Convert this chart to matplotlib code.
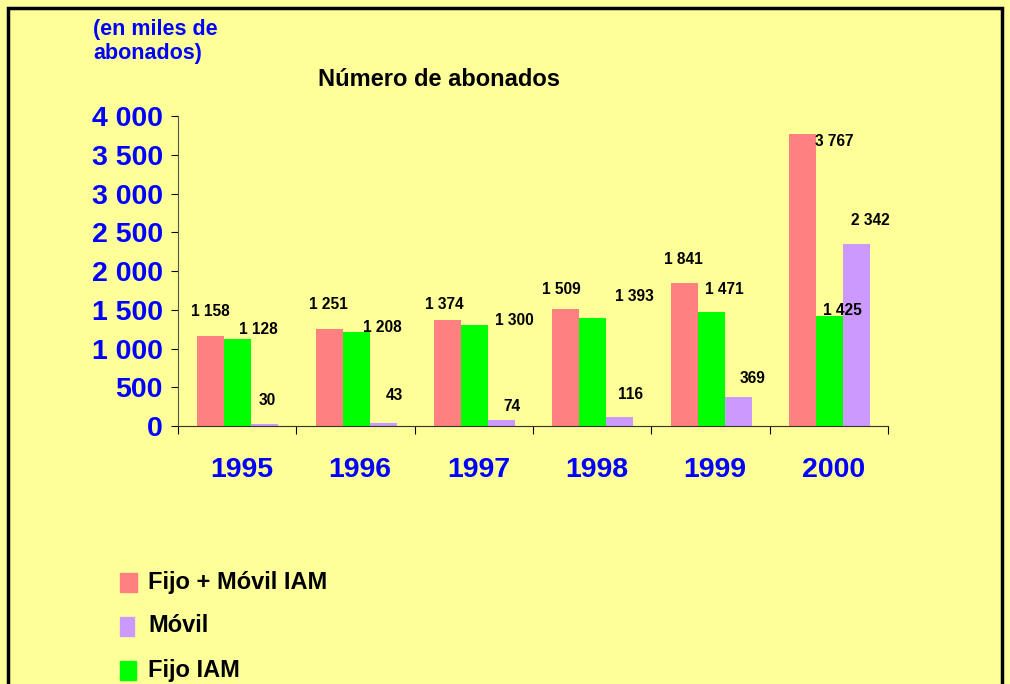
import matplotlib.pyplot as plt
from matplotlib.patches import Rectangle
import numpy as np

plt.rcParams['font.family'] = ['Liberation Sans', 'DejaVu Sans']
plt.rcParams['font.weight'] = 'bold'

years = ['1995', '1996', '1997', '1998', '1999', '2000']
fijo_movil = [1158, 1251, 1374, 1509, 1841, 3767]
fijo = [1128, 1208, 1300, 1393, 1471, 1425]
movil = [30, 43, 74, 116, 369, 2342]

# label offsets in pixels (dx, dy up) from the top centre of each bar
off_fm = [(0, 25), (0, 25), (-3, 15), (-4, 20), (0, 24), (32, -7)]
off_f = [(21, 9), (27, 5), (41, 5), (42, 22), (14, 22), (14, 5)]
off_m = [(3, 23), (12, 27), (11, 14), (11, 23), (15, 19), (15, 24)]

bg = '#FFFF99'
c_fm, c_f, c_m = '#FF8080', '#00FF00', '#CC99FF'
blue = '#0000FF'

fig = plt.figure(figsize=(10.1, 6.84), dpi=100, facecolor=bg)
ax = fig.add_axes([178/1010, 1-426/684, 710/1010, 310/684])
ax.set_facecolor(bg)

x = np.arange(len(years))
w = 0.228
bars = [
    (ax.bar(x - w + 0.005, fijo_movil, w, color=c_fm), fijo_movil, off_fm, -w),
    (ax.bar(x + 0.005, fijo, w, color=c_f), fijo, off_f, 0),
    (ax.bar(x + w + 0.005, movil, w, color=c_m), movil, off_m, w),
]

def fmt(v):
    return '{:,}'.format(v).replace(',', ' ')

for cont, vals, offs, dx in bars:
    for i, v in enumerate(vals):
        ox, oy = offs[i]
        ax.annotate(fmt(v), (x[i] + dx, v), xytext=(ox*0.72, oy*0.72),
                    textcoords='offset points', ha='center', va='center',
                    fontsize=11.2, fontweight='bold', color='black')

ax.set_xlim(-0.5, len(years) - 0.5)
ax.set_ylim(0, 4000)
ax.set_yticks(range(0, 4001, 500))
ax.set_yticklabels([fmt(v) for v in range(0, 4001, 500)],
                   fontsize=20.5, fontweight='bold', color=blue)
ax.set_xticks(np.arange(-0.5, len(years), 1))
ax.set_xticklabels([])
ax.set_xticks(x + 0.04, minor=True)
ax.set_xticklabels(years, minor=True, fontsize=20.5, fontweight='bold', color=blue)
ax.tick_params(axis='x', which='major', length=6, direction='out', color='black')
ax.tick_params(axis='x', which='minor', length=0, pad=22)
ax.tick_params(axis='y', length=5, pad=6, color='black')
for s in ['top', 'right']:
    ax.spines[s].set_visible(False)
ax.spines['left'].set_color('#555555')
ax.spines['bottom'].set_color('#333333')

fig.text(439/1010, 1-80/684, 'Número de abonados', ha='center', va='center',
         fontsize=17, fontweight='bold')
fig.text(93/1010, 1-30/684, '(en miles de', ha='left', va='center',
         fontsize=15.5, fontweight='bold', color=blue)
fig.text(93/1010, 1-54/684, 'abonados)', ha='left', va='center',
         fontsize=15.5, fontweight='bold', color=blue)

# legend drawn by hand
leg = [('Fijo + Móvil IAM', c_fm, 582, 17), ('Móvil', c_m, 626, 14), ('Fijo IAM', c_f, 670, 16)]
for lab, col, yy, sz in leg:
    fig.patches.append(Rectangle((120/1010, 1-(yy+10)/684), sz/1010, 19/684,
                                 transform=fig.transFigure, color=col))
    fig.text(148/1010, 1-yy/684, lab, ha='left', va='center',
             fontsize=17, fontweight='bold')

# outer frame
fig.patches.append(Rectangle((8/1010, -0.1), 994/1010, 1.1-8/684, transform=fig.transFigure,
                             fill=False, edgecolor='black', lw=2.5))

fig.savefig('out.png', dpi=100, facecolor=bg)
